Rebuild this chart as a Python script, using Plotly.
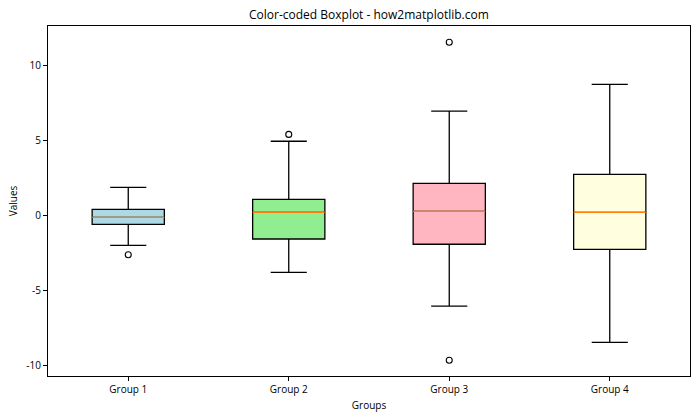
import plotly.graph_objects as go

groups = ["Group 1", "Group 2", "Group 3", "Group 4"]
positions = [1, 2, 3, 4]
q1 = [-0.59, -1.57, -1.92, -2.26]
medians = [-0.12, 0.21, 0.28, 0.21]
q3 = [0.41, 1.08, 2.15, 2.75]
lower_whisker = [-1.99, -3.80, -6.05, -8.47]
upper_whisker = [1.88, 4.96, 6.98, 8.76]
outlier_x = [1, 2, 3, 3]
outlier_y = [-2.62, 5.42, 11.57, -9.67]
box_colors = ["#ADD8E6", "#90EE90", "#FFB6C1", "#FFFFE0"]
ytick_vals = [-10, -5, 0, 5, 10]
ytick_text = ["-10", "-5", "0", "5", "10"]

BOX_W = 0.45
FONT = "Open Sans"

fig = go.Figure()
for i, g in enumerate(groups):
    fig.add_trace(go.Box(
        x=[positions[i]], q1=[q1[i]], median=[medians[i]], q3=[q3[i]],
        lowerfence=[lower_whisker[i]], upperfence=[upper_whisker[i]],
        width=BOX_W, whiskerwidth=0.5, fillcolor=box_colors[i],
        line=dict(color="black", width=1.3), boxpoints=False,
        name=g, showlegend=False, hoverinfo="skip",
    ))
    # orange median line
    fig.add_trace(go.Scatter(
        x=[positions[i] - BOX_W / 2, positions[i] + BOX_W / 2],
        y=[medians[i], medians[i]], mode="lines",
        line=dict(color="#ff7f0e", width=1.3), showlegend=False, hoverinfo="skip",
    ))

fig.add_trace(go.Scatter(
    x=outlier_x, y=outlier_y, mode="markers",
    marker=dict(symbol="circle-open", size=6, color="black", line=dict(width=1.1)),
    showlegend=False, hoverinfo="skip",
))

fig.update_layout(
    width=700, height=420,
    margin=dict(l=48, r=10, t=26, b=44),
    paper_bgcolor="white", plot_bgcolor="white",
    boxmode="overlay",
    font=dict(family=FONT, size=10, color="black"),
    title=dict(text="Color-coded Boxplot - how2matplotlib.com", x=0.527, xanchor="center",
               y=0.964, yanchor="middle", font=dict(size=12, family=FONT)),
)
fig.update_xaxes(
    range=[0.5, 4.5], tickvals=positions, ticktext=groups,
    showline=True, linecolor="black", linewidth=1, mirror=True,
    ticks="outside", ticklen=4, tickcolor="black", showgrid=False, zeroline=False,
    title=dict(text="Groups", font=dict(size=10), standoff=6),
)
fig.update_yaxes(
    range=[-10.72, 12.66], tickvals=ytick_vals, ticktext=ytick_text,
    showline=True, linecolor="black", linewidth=1, mirror=True,
    ticks="outside", ticklen=4, tickcolor="black", showgrid=False, zeroline=False,
    title=dict(text="Values", font=dict(size=10), standoff=6),
)

fig.write_html("out.html")
